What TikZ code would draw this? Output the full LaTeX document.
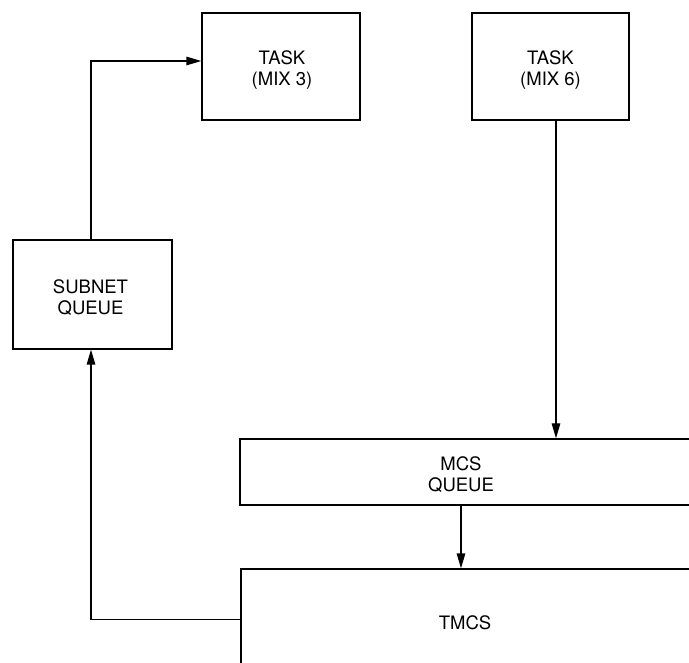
\documentclass[tikz,border=0pt]{standalone}
\usepackage{fontspec}
\setmainfont{TeX Gyre Heros}
\usetikzlibrary{arrows.meta,calc}
\begin{document}
\begin{tikzpicture}[x=1pt,y=-1pt,
  box/.style={draw,line width=1.3pt,rectangle,inner sep=0pt,align=center},
  lbl/.style={inner sep=0pt,align=center,font=\fontsize{18.5}{21}\selectfont},
  conn/.style={line width=1.3pt,-{Triangle[length=15pt,width=8.5pt]}}]
\useasboundingbox (0,0) rectangle (689,663);
\clip (0,0) rectangle (689,663);
\node[box,minimum width=158pt,minimum height=107pt] (mix3) at (281,66.5) {};
\node[lbl] (mix3t) at (282,70.5) {TASK\\(MIX 3)};
\node[box,minimum width=157pt,minimum height=107pt] (mix6) at (550.5,66.5) {};
\node[lbl] (mix6t) at (550.5,70.5) {TASK\\(MIX 6)};
\node[box,minimum width=159pt,minimum height=109pt] (subnet) at (92.5,294.5) {};
\node[lbl] (subnett) at (90.5,297.5) {SUBNET\\QUEUE};
\node[box,minimum width=480pt,minimum height=66pt] (mcs) at (480,472) {};
\node[lbl] (mcst) at (461,475) {MCS\\QUEUE};
\node[box,minimum width=480pt,minimum height=130pt] (tmcs) at (481,634) {};
\node[lbl] (tmcst) at (465,623) {TMCS};
\coordinate (ret) at (0,619.5);
\coordinate (up) at (0,61);
\draw[conn] ([xshift=-1.5pt]subnet.north) |- (mix3.west |- up);
\draw[conn] ([xshift=5.5pt]mix6.south) -- ([xshift=5.5pt]mix6.south |- mcs.north);
\draw[conn] (mcst |- mcs.south) -- (mcst |- tmcs.north);
\draw[conn] (tmcs.west |- ret) -| ([xshift=-1.5pt]subnet.south);
\end{tikzpicture}
\end{document}
